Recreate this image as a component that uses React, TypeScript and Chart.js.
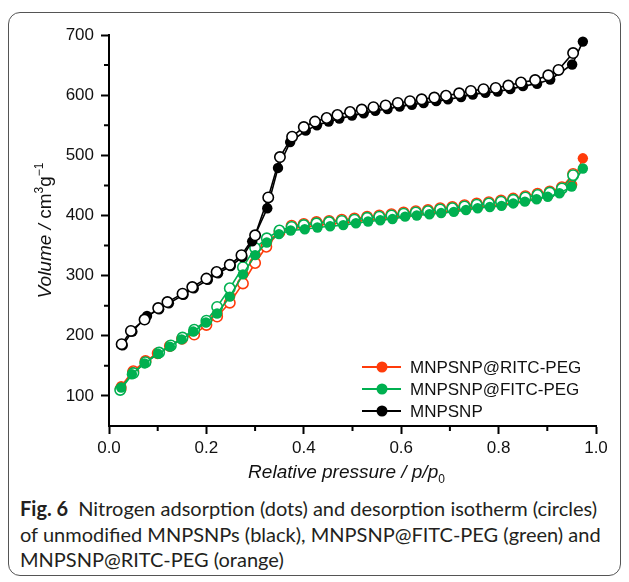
import React, { useEffect, useRef } from "react";
import { Chart, registerables } from "chart.js";
Chart.register(...registerables);

// ---- Data (relative pressure p/p0, volume cm3/g) ----
const blackAdsP = [0.028, 0.048, 0.078, 0.103, 0.123, 0.153, 0.174, 0.203, 0.224, 0.25, 0.274, 0.294, 0.325, 0.347, 0.372, 0.404, 0.427, 0.451, 0.473, 0.499, 0.523, 0.547, 0.572, 0.597, 0.622, 0.646, 0.672, 0.696, 0.723, 0.747, 0.773, 0.798, 0.824, 0.85, 0.879, 0.906, 0.951, 0.973];
const blackAdsV = [184, 207, 233, 244, 254, 268, 279, 293, 304, 316, 331, 357, 412, 479, 522, 541, 550, 556, 561, 566, 570, 574, 577, 581, 584, 587, 590, 593, 597, 601, 604, 606, 610, 615, 619, 626, 651, 689];

const blackDesP = [0.026, 0.045, 0.073, 0.101, 0.12, 0.151, 0.171, 0.2, 0.221, 0.248, 0.272, 0.3, 0.327, 0.351, 0.376, 0.4, 0.423, 0.447, 0.469, 0.495, 0.519, 0.543, 0.568, 0.593, 0.618, 0.642, 0.668, 0.692, 0.719, 0.743, 0.769, 0.794, 0.82, 0.846, 0.875, 0.902, 0.923, 0.953];
const blackDesV = [186, 208, 227, 246, 256, 270, 281, 295, 306, 318, 334, 367, 430, 497, 531, 547, 556, 562, 567, 572, 576, 580, 583, 587, 590, 593, 596, 599, 603, 607, 610, 612, 616, 621, 625, 633, 642, 670];

const greenAdsP = [0.025, 0.047, 0.073, 0.101, 0.125, 0.149, 0.173, 0.199, 0.222, 0.248, 0.275, 0.3, 0.324, 0.349, 0.373, 0.402, 0.428, 0.454, 0.481, 0.507, 0.532, 0.557, 0.582, 0.608, 0.632, 0.658, 0.682, 0.708, 0.733, 0.757, 0.782, 0.806, 0.83, 0.854, 0.878, 0.901, 0.925, 0.95, 0.973];
const greenAdsV = [114, 136, 154, 170, 182, 194, 207, 222, 237, 265, 302, 334, 355, 369, 375, 377, 380, 382, 384, 387, 390, 392, 394, 398, 400, 402, 404, 406, 409, 412, 414, 416, 420, 423, 427, 431, 437, 448, 478];

const greenDesP = [0.023, 0.05, 0.075, 0.103, 0.127, 0.151, 0.175, 0.2, 0.222, 0.248, 0.275, 0.3, 0.324, 0.35, 0.375, 0.4, 0.426, 0.452, 0.478, 0.504, 0.53, 0.555, 0.58, 0.605, 0.63, 0.655, 0.68, 0.705, 0.73, 0.755, 0.78, 0.805, 0.83, 0.855, 0.88, 0.905, 0.93, 0.953];
const greenDesV = [110, 138, 156, 172, 184, 197, 210, 225, 248, 279, 314, 346, 362, 375, 381, 384, 387, 389, 391, 393, 396, 398, 400, 403, 405, 407, 410, 412, 415, 418, 420, 423, 426, 430, 434, 438, 445, 467];

const redAdsP = [0.025, 0.048, 0.074, 0.102, 0.126, 0.15, 0.174, 0.2, 0.223, 0.249, 0.276, 0.301, 0.325, 0.35, 0.374, 0.403, 0.429, 0.455, 0.482, 0.508, 0.533, 0.558, 0.583, 0.609, 0.633, 0.659, 0.683, 0.709, 0.734, 0.758, 0.783, 0.807, 0.831, 0.855, 0.879, 0.902, 0.926, 0.951, 0.973];
const redAdsV = [116, 140, 157, 171, 183, 196, 208, 223, 238, 266, 303, 335, 357, 372, 378, 381, 384, 386, 388, 390, 393, 395, 397, 400, 402, 404, 406, 408, 411, 414, 416, 418, 422, 425, 429, 433, 439, 451, 495];

const redDesP = [0.024, 0.05, 0.075, 0.1, 0.125, 0.15, 0.175, 0.2, 0.222, 0.248, 0.275, 0.3, 0.323, 0.35, 0.375, 0.4, 0.426, 0.452, 0.478, 0.504, 0.53, 0.555, 0.58, 0.605, 0.63, 0.655, 0.68, 0.705, 0.73, 0.755, 0.78, 0.805, 0.83, 0.855, 0.88, 0.905, 0.93, 0.953];
const redDesV = [112, 141, 158, 171, 183, 195, 202, 218, 232, 255, 287, 321, 348, 372, 383, 386, 389, 391, 393, 395, 398, 400, 402, 405, 407, 409, 412, 414, 417, 420, 422, 425, 428, 432, 436, 440, 447, 469];

const seriesLabels = ["MNPSNP@RITC-PEG", "MNPSNP@FITC-PEG", "MNPSNP"];
const seriesColors = ["#ff3b0a", "#00b050", "#000000"];

const xTickValues = [0, 0.2, 0.4, 0.6, 0.8, 1.0];
const yTickValues = [100, 200, 300, 400, 500, 600, 700];
const xMinorTicks = [0.1, 0.3, 0.5, 0.7, 0.9];
const yMinorTicks = [150, 250, 350, 450, 550, 650];

const FONT = "'Liberation Sans', Arial, sans-serif";

function pts(p: number[], v: number[]) {
  return p.map((x, i) => ({ x, y: v[i] }));
}

function drawParts(ctx: CanvasRenderingContext2D, parts: { t: string; font: string; dy: number }[], cx: number, baseline: number) {
  let total = 0;
  for (const p of parts) {
    ctx.font = p.font;
    total += ctx.measureText(p.t).width;
  }
  let x = cx - total / 2;
  for (const p of parts) {
    ctx.font = p.font;
    ctx.fillText(p.t, x, baseline + p.dy);
    x += ctx.measureText(p.t).width;
  }
}

const extrasPlugin = {
  id: "extras",
  afterDraw(chart: any) {
    const ctx: CanvasRenderingContext2D = chart.ctx;
    const xs = chart.scales.x;
    const ys = chart.scales.y;
    const area = chart.chartArea;
    ctx.save();
    // minor ticks
    ctx.strokeStyle = "#000";
    ctx.lineWidth = 2;
    ctx.beginPath();
    for (const v of xMinorTicks) {
      const px = xs.getPixelForValue(v);
      ctx.moveTo(px, area.bottom);
      ctx.lineTo(px, area.bottom + 5);
    }
    for (const v of yMinorTicks) {
      const py = ys.getPixelForValue(v);
      ctx.moveTo(area.left, py);
      ctx.lineTo(area.left - 5, py);
    }
    ctx.stroke();

    // axis titles
    ctx.fillStyle = "#111";
    ctx.textBaseline = "alphabetic";
    ctx.textAlign = "left";
    const cx = (area.left + area.right) / 2;
    drawParts(
      ctx,
      [
        { t: "Relative pressure / ", font: `italic 19px ${FONT}`, dy: 0 },
        { t: "p/p", font: `italic 19px ${FONT}`, dy: 0 },
        { t: "0", font: `12px ${FONT}`, dy: 5 },
      ],
      cx - 6,
      478
    );
    ctx.save();
    ctx.translate(43, (area.top + area.bottom) / 2);
    ctx.rotate(-Math.PI / 2);
    drawParts(
      ctx,
      [
        { t: "Volume / ", font: `italic 19px ${FONT}`, dy: 0 },
        { t: "cm", font: `19px ${FONT}`, dy: 0 },
        { t: "3", font: `12px ${FONT}`, dy: -8 },
        { t: "g", font: `19px ${FONT}`, dy: 0 },
        { t: "\u22121", font: `12px ${FONT}`, dy: -8 },
      ],
      0,
      8
    );
    ctx.restore();

    // legend
    const rows = [-59, -37, -15];
    for (let i = 0; i < seriesLabels.length; i++) {
      const y = area.bottom + rows[i];
      const x0 = area.left + 253;
      ctx.strokeStyle = seriesColors[i];
      ctx.lineWidth = 1.8;
      ctx.beginPath();
      ctx.moveTo(x0, y);
      ctx.lineTo(x0 + 39, y);
      ctx.stroke();
      ctx.fillStyle = seriesColors[i];
      ctx.beginPath();
      ctx.arc(x0 + 20, y, 5.5, 0, Math.PI * 2);
      ctx.fill();
      ctx.fillStyle = "#111";
      ctx.font = `17px ${FONT}`;
      ctx.textBaseline = "middle";
      ctx.fillText(seriesLabels[i], x0 + 48, y + 1);
    }
    ctx.restore();
  },
};

export default function App() {
  const ref = useRef<HTMLCanvasElement | null>(null);

  useEffect(() => {
    if (!ref.current) return;
    const mk = (label: string, data: any[], color: string, open: boolean, order: number) => ({
      label,
      data,
      order,
      showLine: true,
      borderColor: color,
      borderWidth: 1.6,
      pointRadius: 5.2,
      pointHoverRadius: 5.2,
      pointBorderWidth: open ? 1.6 : 0,
      pointBackgroundColor: open ? "#ffffff" : color,
      pointBorderColor: color,
      clip: false,
      tension: 0,
    });
    const chart = new Chart(ref.current, {
      type: "line",
      data: {
        datasets: [
          mk("RITC des", pts(redDesP, redDesV), seriesColors[0], true, 6),
          mk(seriesLabels[0], pts(redAdsP, redAdsV), seriesColors[0], false, 5),
          mk("FITC des", pts(greenDesP, greenDesV), seriesColors[1], true, 4),
          mk(seriesLabels[1], pts(greenAdsP, greenAdsV), seriesColors[1], false, 3),
          mk(seriesLabels[2], pts(blackAdsP, blackAdsV), seriesColors[2], false, 2),
          mk("MNPSNP des", pts(blackDesP, blackDesV), seriesColors[2], true, 1),
        ] as any,
      },
      options: {
        animation: false,
        responsive: false,
        events: [],
        layout: { padding: { top: 35, right: 33, bottom: 0, left: 0 } },
        plugins: { legend: { display: false }, tooltip: { enabled: false }, title: { display: false } },
        scales: {
          x: {
            type: "linear",
            min: 0,
            max: 1,
            afterFit: (s: any) => {
              s.height = 64;
            },
            afterBuildTicks: (s: any) => {
              s.ticks = xTickValues.map((v) => ({ value: v }));
            },
            ticks: {
              color: "#111",
              font: { family: FONT, size: 17 },
              padding: 4,
              maxRotation: 0,
              autoSkip: false,
              callback: (v: any) => Number(v).toFixed(1),
            },
            grid: { display: true, drawOnChartArea: false, drawTicks: true, tickLength: 8, tickColor: "#000", tickWidth: 2 },
            border: { display: true, color: "#000", width: 2 },
          },
          y: {
            type: "linear",
            min: 50,
            max: 700,
            afterFit: (s: any) => {
              s.width = 109;
            },
            ticks: {
              color: "#111",
              font: { family: FONT, size: 17 },
              padding: 7,
              callback: (v: any) => String(v),
            },
            afterBuildTicks: (s: any) => {
              s.ticks = yTickValues.map((v) => ({ value: v }));
            },
            grid: { display: true, drawOnChartArea: false, drawTicks: true, tickLength: 8, tickColor: "#000", tickWidth: 2 },
            border: { display: true, color: "#000", width: 2 },
          },
        },
      },
      plugins: [extrasPlugin],
    });
    return () => chart.destroy();
  }, []);

  return (
    <div style={{ position: "fixed", left: 0, top: 0, width: 629, height: 582, background: "#fff", overflow: "hidden" }}>
      <div
        style={{
          position: "absolute",
          left: 8,
          top: 12,
          width: 613,
          height: 564,
          border: "1px solid #555",
          borderRadius: 12,
          boxSizing: "border-box",
        }}
      />
      <canvas ref={ref} width={629} height={490} style={{ position: "absolute", left: 0, top: 0, width: 629, height: 490 }} />
      <div
        style={{
          position: "absolute",
          left: 20,
          top: 496,
          fontFamily: "Lato, 'Open Sans', sans-serif",
          fontSize: 20,
          lineHeight: "25.5px",
          color: "#231f20",
          whiteSpace: "nowrap",
        }}
      >
        <div>
          <b>Fig. 6</b>
          <span style={{ marginLeft: 10 }}>Nitrogen adsorption (dots) and desorption isotherm (circles)</span>
        </div>
        <div>of unmodified MNPSNPs (black), MNPSNP@FITC-PEG (green) and</div>
        <div>MNPSNP@RITC-PEG (orange)</div>
      </div>
    </div>
  );
}
